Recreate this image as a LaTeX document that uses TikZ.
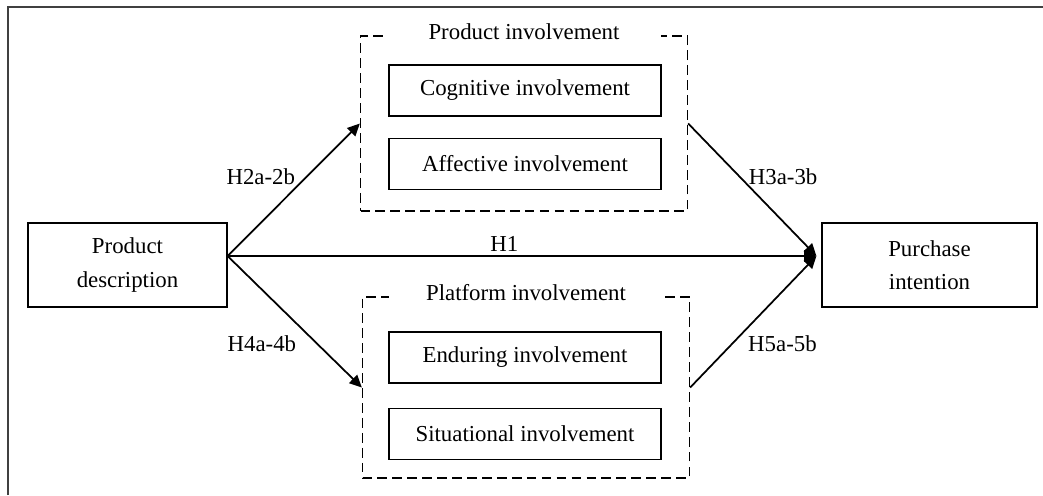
\documentclass[tikz,border=0pt]{standalone}
\usepackage{fontspec}
\setmainfont{Liberation Serif}
\usetikzlibrary{arrows.meta,positioning}
\def\BoxWidth{5.44cm}
\def\BoxHeight{1.02cm}
\def\EndHeight{1.68cm}

\begin{document}
\begin{tikzpicture}[x=0.02cm,y=-0.02cm,
	font=\fontsize{13}{19}\selectfont,
	box/.style={draw,line width=0.7pt,minimum width=\BoxWidth,minimum height=\BoxHeight,inner sep=0pt},
	endbox/.style={draw,line width=0.7pt,minimum height=\EndHeight,align=center,inner sep=0pt},
	group/.style={draw,dash pattern=on 5.5pt off 3pt,line width=0.8pt,minimum width=6.54cm},
	grouptitle/.style={fill=white,minimum width=5.5cm,inner sep=1pt},
	link/.style={line width=1pt,-{Triangle[length=7pt,width=6.5pt]}},
	hyp/.style={inner sep=2pt}]
	\useasboundingbox (0,0) rectangle (1043,495);
	\draw[line width=1.2pt,black!75] (8,495) -- (8,7) -- (1043,7);
	% end boxes
	\node[endbox,minimum width=3.98cm] (desc) at (127.5,265) {Product\\description};
	\node[endbox,minimum width=4.3cm] (intent) at (929.5,265) {Purchase\\intention};
	% product involvement
	\node[group,minimum height=3.5cm] (prodinv) at (524,123.5) {};
	\node[grouptitle] (prodtitle) at ([yshift=2pt]prodinv.north) {Product involvement};
	\node[box] (cogn) at (525,90.5) {Cognitive involvement};
	\node[box,below=0.42cm of cogn] (affe) {Affective involvement};
	% platform involvement
	\node[group,minimum height=3.62cm] (platinv) at (526,387.5) {};
	\node[grouptitle] (plattitle) at ([yshift=2pt]platinv.north) {Platform involvement};
	\node[box] (endu) at (525,357.5) {Enduring involvement};
	\node[box,below=0.48cm of endu] (situ) {Situational involvement};
	\coordinate (descout) at ([yshift=0.18cm]desc.east);
	\coordinate (intentin) at ([yshift=0.18cm,xshift=-0.1cm]intent.west);
	\draw[link] (descout) -- (prodinv.west) node[hyp,pos=0.6,left=0.15cm] {H2a-2b};
	\draw[link] (descout) -- (platinv.west) node[hyp,pos=0.67,left=0.34cm] {H4a-4b};
	\draw[link] (descout) -- (intentin) node[hyp,pos=0.47,above] {H1};
	\draw[link] (prodinv.east) -- (intentin) node[hyp,pos=0.4,right=0.1cm] {H3a-3b};
	\draw[link] (platinv.east) -- (intentin) node[hyp,pos=0.33,right=0.24cm] {H5a-5b};
\end{tikzpicture}
\end{document}
